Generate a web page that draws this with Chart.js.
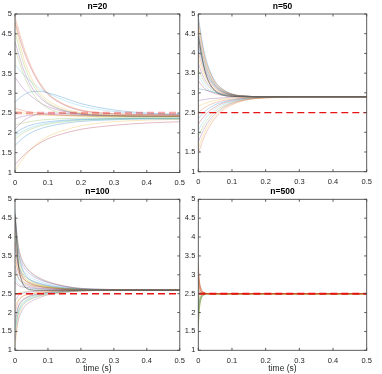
<!DOCTYPE html>
<html><head><meta charset="utf-8">
<script src="https://cdn.jsdelivr.net/npm/chart.js@4/dist/chart.umd.min.js"></script>
<style>
html,body{margin:0;padding:0;background:#fff;}
#wrap{position:relative;width:382px;height:374px;overflow:hidden;background:#fff;}
canvas{position:absolute;}
</style></head><body>
<div id="wrap">
<canvas id="c20" width="191" height="187" style="left:0;top:0"></canvas>
<canvas id="c50" width="198" height="187" style="left:184px;top:0"></canvas>
<canvas id="c100" width="191" height="187" style="left:0;top:187px"></canvas>
<canvas id="c500" width="198" height="187" style="left:184px;top:187px"></canvas>
</div>
<script>
// ---------- data ----------
const XTICKS = [0, 0.1, 0.2, 0.3, 0.4, 0.5];
const YTICKS = [1, 1.5, 2, 2.5, 3, 3.5, 4, 4.5, 5];
const REF = 2.5;
const TITLES = ['n=20', 'n=50', 'n=100', 'n=500'];
const XLABEL = 'time (s)';

const T20 = [0, 0.025, 0.05, 0.075, 0.1, 0.15, 0.2, 0.3, 0.4, 0.5];
const Y20 = [
 [4.92, 4.20, 3.66, 3.27, 3.00, 2.72, 2.58, 2.48, 2.46, 2.45],
 [4.80, 4.10, 3.60, 3.23, 2.97, 2.70, 2.56, 2.48, 2.46, 2.45],
 [4.75, 3.92, 3.38, 3.03, 2.82, 2.61, 2.51, 2.45, 2.43, 2.43],
 [4.55, 3.78, 3.28, 2.96, 2.76, 2.57, 2.49, 2.44, 2.42, 2.42],
 [4.30, 3.62, 3.16, 2.90, 2.73, 2.56, 2.48, 2.44, 2.42, 2.42],
 [4.12, 3.50, 3.05, 2.78, 2.62, 2.49, 2.44, 2.42, 2.41, 2.41],
 [3.72, 3.48, 3.28, 3.12, 3.00, 2.82, 2.68, 2.54, 2.48, 2.46],
 [3.40, 3.12, 2.92, 2.77, 2.66, 2.54, 2.47, 2.43, 2.42, 2.42],
 [2.78, 2.95, 3.04, 3.05, 3.01, 2.88, 2.74, 2.58, 2.50, 2.47],
 [2.62, 2.56, 2.52, 2.49, 2.47, 2.44, 2.43, 2.42, 2.42, 2.42],
 [2.55, 2.50, 2.47, 2.45, 2.44, 2.43, 2.42, 2.41, 2.41, 2.41],
 [2.35, 2.42, 2.45, 2.46, 2.46, 2.45, 2.44, 2.43, 2.42, 2.42],
 [2.20, 2.25, 2.29, 2.32, 2.34, 2.36, 2.37, 2.38, 2.38, 2.38],
 [2.00, 2.12, 2.20, 2.25, 2.28, 2.32, 2.34, 2.36, 2.37, 2.37],
 [1.92, 2.05, 2.14, 2.20, 2.25, 2.30, 2.33, 2.35, 2.36, 2.36],
 [1.85, 2.00, 2.10, 2.17, 2.22, 2.28, 2.32, 2.35, 2.36, 2.36],
 [1.68, 1.88, 2.01, 2.10, 2.16, 2.24, 2.29, 2.33, 2.35, 2.35],
 [2.10, 2.30, 2.42, 2.48, 2.50, 2.49, 2.47, 2.44, 2.43, 2.42],
 [1.20, 1.42, 1.60, 1.74, 1.85, 1.99, 2.09, 2.19, 2.25, 2.28],
 [1.05, 1.36, 1.60, 1.78, 1.91, 2.07, 2.18, 2.28, 2.32, 2.34]
];

const T50 = [0, 0.01, 0.02, 0.03, 0.05, 0.07, 0.1, 0.15, 0.2, 0.3, 0.5];
const Y50 = [
 [4.95, 4.38, 3.95, 3.66, 3.29, 3.11, 2.97, 2.91, 2.90, 2.90, 2.90],
 [4.85, 4.30, 3.89, 3.62, 3.27, 3.10, 2.97, 2.91, 2.90, 2.90, 2.90],
 [4.75, 4.23, 3.84, 3.58, 3.25, 3.09, 2.97, 2.91, 2.90, 2.90, 2.90],
 [4.60, 4.12, 3.77, 3.53, 3.22, 3.07, 2.96, 2.91, 2.90, 2.90, 2.90],
 [4.50, 4.05, 3.72, 3.49, 3.20, 3.06, 2.96, 2.91, 2.90, 2.90, 2.90],
 [4.40, 3.98, 3.67, 3.46, 3.19, 3.05, 2.95, 2.91, 2.90, 2.90, 2.90],
 [4.30, 3.91, 3.61, 3.42, 3.17, 3.04, 2.95, 2.91, 2.90, 2.90, 2.90],
 [4.20, 3.84, 3.56, 3.38, 3.15, 3.03, 2.95, 2.91, 2.90, 2.90, 2.90],
 [4.05, 3.73, 3.49, 3.33, 3.12, 3.02, 2.94, 2.91, 2.90, 2.90, 2.90],
 [3.90, 3.62, 3.41, 3.27, 3.09, 3.00, 2.94, 2.91, 2.90, 2.90, 2.90],
 [3.75, 3.51, 3.33, 3.21, 3.06, 2.99, 2.93, 2.91, 2.90, 2.90, 2.90],
 [3.60, 3.40, 3.26, 3.16, 3.03, 2.97, 2.93, 2.90, 2.90, 2.90, 2.90],
 [3.45, 3.30, 3.18, 3.10, 3.00, 2.96, 2.92, 2.90, 2.90, 2.90, 2.90],
 [3.30, 3.19, 3.10, 3.05, 2.98, 2.94, 2.91, 2.90, 2.90, 2.90, 2.90],
 [3.10, 3.09, 3.07, 3.05, 3.01, 2.97, 2.93, 2.91, 2.90, 2.90, 2.90],
 [1.45, 1.71, 1.93, 2.10, 2.36, 2.54, 2.70, 2.83, 2.87, 2.90, 2.90],
 [1.60, 1.83, 2.03, 2.19, 2.42, 2.58, 2.72, 2.84, 2.87, 2.90, 2.90],
 [1.75, 1.96, 2.13, 2.27, 2.47, 2.61, 2.74, 2.84, 2.88, 2.90, 2.90],
 [1.90, 2.08, 2.23, 2.35, 2.53, 2.65, 2.76, 2.85, 2.88, 2.90, 2.90],
 [2.05, 2.20, 2.33, 2.43, 2.59, 2.69, 2.78, 2.86, 2.88, 2.90, 2.90],
 [2.20, 2.33, 2.43, 2.52, 2.64, 2.73, 2.80, 2.87, 2.89, 2.90, 2.90],
 [2.35, 2.45, 2.53, 2.60, 2.70, 2.76, 2.82, 2.87, 2.89, 2.90, 2.90],
 [2.50, 2.57, 2.63, 2.68, 2.75, 2.80, 2.84, 2.88, 2.89, 2.90, 2.90],
 [2.65, 2.70, 2.73, 2.76, 2.81, 2.84, 2.87, 2.89, 2.90, 2.90, 2.90],
 [2.80, 2.82, 2.83, 2.85, 2.86, 2.87, 2.89, 2.90, 2.90, 2.90, 2.90]
];
const MEAN50 = [4.45, 3.95, 3.55, 3.30, 3.05, 2.95, 2.91, 2.90, 2.90, 2.90, 2.90];

const T100 = [0, 0.01, 0.02, 0.03, 0.05, 0.07, 0.1, 0.15, 0.2, 0.3, 0.5];
const Y100 = [
 [4.70, 3.65, 3.23, 3.02, 2.85, 2.77, 2.71, 2.64, 2.62, 2.60, 2.60],
 [4.60, 3.80, 3.44, 3.26, 3.06, 2.94, 2.82, 2.70, 2.64, 2.61, 2.60],
 [4.45, 3.53, 3.16, 2.97, 2.82, 2.75, 2.69, 2.64, 2.61, 2.60, 2.60],
 [4.30, 3.62, 3.31, 3.16, 2.99, 2.89, 2.79, 2.69, 2.63, 2.61, 2.60],
 [4.15, 3.38, 3.07, 2.91, 2.79, 2.72, 2.68, 2.63, 2.61, 2.60, 2.60],
 [4.00, 3.44, 3.19, 3.06, 2.92, 2.84, 2.75, 2.67, 2.63, 2.61, 2.60],
 [3.85, 3.23, 2.98, 2.85, 2.75, 2.70, 2.66, 2.63, 2.61, 2.60, 2.60],
 [3.70, 3.26, 3.06, 2.96, 2.85, 2.79, 2.72, 2.66, 2.62, 2.60, 2.60],
 [3.55, 3.08, 2.89, 2.79, 2.71, 2.68, 2.65, 2.62, 2.61, 2.60, 2.60],
 [3.40, 3.08, 2.94, 2.86, 2.78, 2.74, 2.69, 2.64, 2.62, 2.60, 2.60],
 [3.25, 2.93, 2.80, 2.73, 2.68, 2.65, 2.63, 2.61, 2.61, 2.60, 2.60],
 [3.10, 2.90, 2.81, 2.77, 2.72, 2.69, 2.66, 2.63, 2.61, 2.60, 2.60],
 [2.95, 2.78, 2.71, 2.67, 2.64, 2.63, 2.62, 2.61, 2.60, 2.60, 2.60],
 [2.80, 2.72, 2.68, 2.67, 2.65, 2.63, 2.62, 2.61, 2.60, 2.60, 2.60],
 [4.50, 3.74, 3.40, 3.23, 3.04, 2.92, 2.81, 2.70, 2.64, 2.61, 2.60],
 [3.95, 3.28, 3.01, 2.87, 2.76, 2.71, 2.67, 2.63, 2.61, 2.60, 2.60],
 [1.10, 1.85, 2.12, 2.24, 2.36, 2.42, 2.48, 2.54, 2.57, 2.59, 2.60],
 [1.25, 1.79, 2.03, 2.17, 2.30, 2.38, 2.47, 2.53, 2.57, 2.59, 2.60],
 [1.40, 2.00, 2.22, 2.31, 2.41, 2.46, 2.50, 2.55, 2.58, 2.59, 2.60],
 [1.55, 1.97, 2.16, 2.26, 2.37, 2.43, 2.50, 2.55, 2.58, 2.59, 2.60],
 [1.70, 2.15, 2.31, 2.38, 2.46, 2.49, 2.53, 2.56, 2.58, 2.60, 2.60],
 [1.85, 2.15, 2.29, 2.36, 2.44, 2.48, 2.53, 2.56, 2.59, 2.60, 2.60],
 [2.00, 2.30, 2.41, 2.46, 2.50, 2.53, 2.55, 2.58, 2.59, 2.60, 2.60],
 [2.15, 2.33, 2.41, 2.46, 2.50, 2.53, 2.56, 2.58, 2.59, 2.60, 2.60],
 [2.30, 2.45, 2.50, 2.53, 2.55, 2.56, 2.58, 2.59, 2.59, 2.60, 2.60],
 [2.45, 2.51, 2.54, 2.55, 2.57, 2.58, 2.59, 2.59, 2.60, 2.60, 2.60],
 [1.60, 2.00, 2.18, 2.28, 2.38, 2.44, 2.50, 2.55, 2.58, 2.59, 2.60]
];
const MEAN100 = [4.60, 3.30, 2.85, 2.68, 2.60, 2.59, 2.59, 2.59, 2.59, 2.59, 2.59];

const T500 = [0, 0.002, 0.004, 0.006, 0.01, 0.015, 0.02, 0.03, 0.05, 0.5];
const Y500 = [
 [3.30, 2.98, 2.80, 2.70, 2.59, 2.54, 2.52, 2.50, 2.50, 2.50],
 [3.20, 2.92, 2.77, 2.68, 2.58, 2.54, 2.51, 2.50, 2.50, 2.50],
 [3.10, 2.86, 2.73, 2.65, 2.57, 2.53, 2.51, 2.50, 2.50, 2.50],
 [3.00, 2.80, 2.69, 2.63, 2.56, 2.53, 2.51, 2.50, 2.50, 2.50],
 [2.90, 2.74, 2.65, 2.60, 2.54, 2.52, 2.51, 2.50, 2.50, 2.50],
 [2.80, 2.68, 2.61, 2.58, 2.53, 2.52, 2.51, 2.50, 2.50, 2.50],
 [2.70, 2.62, 2.58, 2.55, 2.52, 2.51, 2.50, 2.50, 2.50, 2.50],
 [2.60, 2.56, 2.54, 2.53, 2.51, 2.51, 2.50, 2.50, 2.50, 2.50],
 [2.40, 2.44, 2.46, 2.48, 2.49, 2.50, 2.50, 2.50, 2.50, 2.50],
 [2.30, 2.38, 2.42, 2.45, 2.48, 2.49, 2.50, 2.50, 2.50, 2.50],
 [2.20, 2.32, 2.39, 2.43, 2.47, 2.49, 2.49, 2.50, 2.50, 2.50],
 [2.10, 2.26, 2.35, 2.40, 2.46, 2.48, 2.49, 2.50, 2.50, 2.50],
 [2.00, 2.20, 2.31, 2.38, 2.45, 2.48, 2.49, 2.50, 2.50, 2.50],
 [1.90, 2.14, 2.27, 2.35, 2.43, 2.47, 2.49, 2.50, 2.50, 2.50],
 [1.80, 2.08, 2.23, 2.33, 2.42, 2.47, 2.49, 2.50, 2.50, 2.50],
 [1.70, 2.02, 2.20, 2.30, 2.41, 2.46, 2.48, 2.50, 2.50, 2.50],
 [1.60, 1.96, 2.16, 2.28, 2.40, 2.46, 2.48, 2.50, 2.50, 2.50],
 [1.55, 1.93, 2.14, 2.26, 2.40, 2.45, 2.48, 2.50, 2.50, 2.50]
];

// ---------- styles ----------
const PAL = [[0,114,189],[217,83,25],[237,177,32],[126,47,142],[119,172,48],[77,190,238],[162,20,47]];
const COL20 = [1,6,2,4,3,4,5,3,0,1,2,3,4,0,5,4,0,3,6,2];
const FAM = '"Liberation Sans", Arial, Helvetica, sans-serif';
const rgba = (c,a) => `rgba(${c[0]},${c[1]},${c[2]},${a})`;

const boxPlugin = {
  id: 'box',
  afterDatasetsDraw(chart) {
    const {ctx, chartArea: a, scales: {x, y}} = chart;
    ctx.save();
    ctx.strokeStyle = '#4a4a4a';
    ctx.lineWidth = 0.9;
    ctx.strokeRect(a.left, a.top, a.right - a.left, a.bottom - a.top);
    const L = 2.5;
    ctx.beginPath();
    x.ticks.forEach(t => {
      const p = x.getPixelForValue(t.value);
      ctx.moveTo(p, a.bottom); ctx.lineTo(p, a.bottom - L);
      ctx.moveTo(p, a.top); ctx.lineTo(p, a.top + L);
    });
    y.ticks.forEach(t => {
      const p = y.getPixelForValue(t.value);
      ctx.moveTo(a.left, p); ctx.lineTo(a.left + L, p);
      ctx.moveTo(a.right, p); ctx.lineTo(a.right - L, p);
    });
    ctx.stroke();
    ctx.restore();
  }
};

function pts(T, Y) { return T.map((t, i) => ({x: t, y: Y[i]})); }

function makeChart(id, title, T, Ys, colorOf, extra, L) {
  const datasets = [];
  datasets.push({
    data: [{x: XTICKS[0], y: REF}, {x: XTICKS[XTICKS.length - 1], y: REF}],
    borderColor: L.refColor, borderWidth: L.refWidth, borderDash: [7, 4], order: 0
  });
  if (extra) datasets.push({data: pts(T, extra), borderColor: 'rgba(80,80,80,0.7)', borderWidth: 1, order: 1});
  Ys.forEach((Y, i) => datasets.push({
    data: pts(T, Y), borderColor: colorOf(i, Y), borderWidth: 0.7, order: 2
  }));
  return new Chart(document.getElementById(id), {
    type: 'line',
    data: {datasets},
    plugins: [boxPlugin],
    options: {
      responsive: false, animation: false, events: [],
      layout: {padding: {left: 0, right: L.padR, top: 0, bottom: 0}},
      elements: {point: {radius: 0}, line: {cubicInterpolationMode: 'monotone', fill: false}},
      plugins: {
        legend: {display: false}, tooltip: {enabled: false},
        title: {display: true, text: title, fullSize: false, color: '#000',
          font: {family: FAM, size: 8.5, weight: 'bold', lineHeight: 1.2},
          padding: {top: L.tTop, bottom: L.tBot}}
      },
      scales: {
        x: {
          type: 'linear', min: 0, max: 0.5,
          afterBuildTicks: s => { s.ticks = XTICKS.map(v => ({value: v})); },
          afterFit: s => { s.height = L.xH; },
          grid: {display: false, drawTicks: false}, border: {display: false},
          ticks: {color: '#262626', font: {family: FAM, size: 7.5}, padding: 6, maxRotation: 0, autoSkip: false,
            callback: v => String(+(+v).toFixed(2))},
          title: {display: L.xTitle, text: XLABEL, color: '#262626', font: {family: FAM, size: 8.5}, padding: {top: 0, bottom: 0}}
        },
        y: {
          type: 'linear', min: 1, max: 5,
          afterBuildTicks: s => { s.ticks = YTICKS.map(v => ({value: v})); },
          afterFit: s => { s.width = L.yW; },
          grid: {display: false, drawTicks: false}, border: {display: false},
          ticks: {color: '#262626', font: {family: FAM, size: 7.5}, padding: 3, autoSkip: false,
            callback: v => String(+(+v).toFixed(2))}
        }
      }
    }
  });
}

const cyc = (i) => rgba(PAL[i % 7], 0.4);

makeChart('c20', TITLES[0], T20, Y20, (i) => rgba(PAL[COL20[i]], 0.42), null,
  {padR: 8, yW: 15, xH: 14.5, tTop: 1.9, tBot: 1.9, xTitle: false, refColor: 'rgba(235,60,60,0.45)', refWidth: 2.4});
makeChart('c50', TITLES[1], T50, Y50, cyc, MEAN50,
  {padR: 15.3, yW: 14.3, xH: 15.3, tTop: 1.9, tBot: 1.9, xTitle: false, refColor: 'rgb(230,20,20)', refWidth: 1.2});
makeChart('c100', TITLES[2], T100, Y100, cyc, MEAN100,
  {padR: 8, yW: 15, xH: 23.7, tTop: 0, tBot: 2.1, xTitle: true, refColor: 'rgb(230,20,20)', refWidth: 1.6});
makeChart('c500', TITLES[3], T500, Y500,
  (i, Y) => Y[0] > REF ? rgba(PAL[[1,6,2][i % 3]], 0.45) : rgba(PAL[[4,2,4,0][i % 4]], 0.45), null,
  {padR: 15.3, yW: 14.3, xH: 23.7, tTop: 0, tBot: 2.1, xTitle: true, refColor: 'rgb(230,20,20)', refWidth: 2});
</script>
</body></html>
